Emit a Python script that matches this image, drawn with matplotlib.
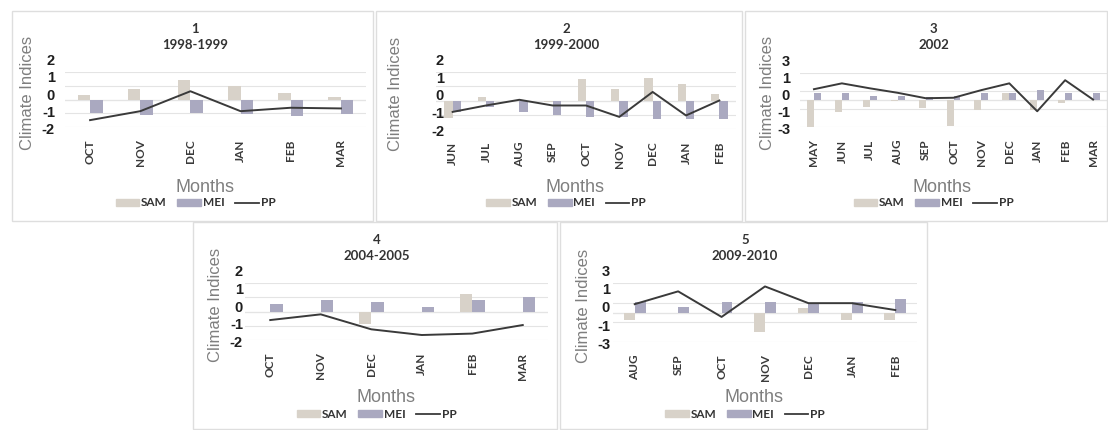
import matplotlib
matplotlib.use('Agg')
import matplotlib.pyplot as plt
from matplotlib.patches import Rectangle, Patch
from matplotlib.lines import Line2D

# panel 1
months1 = ['OCT', 'NOV', 'DEC', 'JAN', 'FEB', 'MAR']
sam1 = [0.35, 0.8, 1.4, 1.0, 0.5, 0.15]
mei1 = [-0.95, -1.1, -0.95, -1.05, -1.2, -1.05]
pp1 = [-1.5, -0.85, 0.6, -0.85, -0.6, -0.65]

# panel 2
months2 = ['JUN', 'JUL', 'AUG', 'SEP', 'OCT', 'NOV', 'DEC', 'JAN', 'FEB']
sam2 = [-1.2, 0.25, -0.05, -0.1, 1.5, 0.8, 1.6, 1.15, 0.45]
mei2 = [-0.8, -0.45, -0.8, -1.05, -1.15, -1.15, -1.3, -1.3, -1.3]
pp2 = [-0.8, -0.35, 0.05, -0.35, -0.35, -1.15, 0.6, -1.05, 0.0]

# panel 3
months3 = ['MAY', 'JUN', 'JUL', 'AUG', 'SEP', 'OCT', 'NOV', 'DEC', 'JAN', 'FEB', 'MAR']
sam3 = [-3.0, -1.3, -0.75, -0.1, -0.9, -2.9, -1.1, 0.75, -1.1, -0.35, -0.05]
mei3 = [0.75, 0.75, 0.5, 0.5, 0.35, 0.5, 0.8, 0.75, 1.1, 0.8, 0.75]
pp3 = [1.2, 1.85, 1.3, 0.8, 0.2, 0.25, 1.1, 1.85, -1.25, 2.2, 0.05]

# panel 4
months4 = ['OCT', 'NOV', 'DEC', 'JAN', 'FEB', 'MAR']
sam4 = [-0.05, -0.05, -0.9, -0.05, 1.25, -0.05]
mei4 = [0.5, 0.8, 0.65, 0.3, 0.8, 1.0]
pp4 = [-0.6, -0.2, -1.25, -1.65, -1.55, -0.95]

# panel 5
months5 = ['AUG', 'SEP', 'OCT', 'NOV', 'DEC', 'JAN', 'FEB']
sam5 = [-0.75, 0.0, 0.0, -2.0, 0.5, -0.75, -0.75]
mei5 = [1.05, 0.6, 1.05, 1.05, 0.95, 1.05, 1.4]
pp5 = [0.85, 2.15, -0.45, 2.65, 0.95, 0.95, 0.25]

titles = ['1\n1998-1999', '2\n1999-2000', '3\n2002', '4\n2004-2005', '5\n2009-2010']
ticks_a = [2, 1, 0, -1, -2]
ticks_b = [3, 1, 0, -1, -3]

W, H = 1108, 430
SAM_C = '#d8d2c9'
MEI_C = '#aaa9c0'
PP_C = '#3a3a3a'
BOLD = ['Lato', 'DejaVu Sans']
PLAIN = ['Liberation Sans', 'DejaVu Sans']


def px(x):
    return x / W


def py(y):
    return 1 - y / H


fig = plt.figure(figsize=(W / 100, H / 100), dpi=100)
fig.patch.set_facecolor('white')

# panel frames (pixels)
frames = [(12, 11, 373, 221), (376, 11, 742, 221), (745, 11, 1107, 221),
          (193, 222, 557, 429), (560, 222, 927, 429)]
for x0, y0, x1, y1 in frames:
    fig.patches.append(Rectangle((px(x0), py(y1)), (x1 - x0) / W, (y1 - y0) / H,
                                 transform=fig.transFigure, fill=False,
                                 edgecolor='#dedede', lw=1))

# plot area (pixels), data, y range, y label x, tick label right edge
panels = [
    ((65, 72, 366, 127), months1, sam1, mei1, pp1, 2, ticks_a, 28, 55),
    ((436, 72, 736, 129), months2, sam2, mei2, pp2, 2, ticks_a, 395, 444),
    ((800, 73, 1107, 127), months3, sam3, mei3, pp3, 3, ticks_b, 768, 790),
    ((245, 283, 548, 340), months4, sam4, mei4, pp4, 2, ticks_a, 215, 243),
    ((613, 283, 917, 342), months5, sam5, mei5, pp5, 3, ticks_b, 583, 610),
]
bw = 0.25

for i, (pb, months, sam, mei, pp, lim, yt, ylx, tkx) in enumerate(panels):
    x0, y0, x1, y1 = pb
    ax = fig.add_axes([px(x0), py(y1), (x1 - x0) / W, (y1 - y0) / H])
    ax.set_facecolor('none')
    x = list(range(len(months)))
    ax.bar([v - bw / 2 for v in x], sam, width=bw, color=SAM_C, zorder=2)
    ax.bar([v + bw / 2 for v in x], mei, width=bw, color=MEI_C, zorder=2)
    ax.plot(x, pp, color=PP_C, lw=1.4, zorder=3)
    ax.set_xlim(-0.5, len(months) - 0.5)
    ax.set_ylim(-lim, lim)
    ax.set_yticks(yt)
    ax.set_yticklabels([])
    ax.set_xticks(x)
    ax.set_xticklabels(months, rotation=90, fontsize=8.5, fontweight='bold',
                       family=BOLD, color='#3a3a3a')
    ax.tick_params(length=0)
    ax.tick_params(axis='x', pad=9)
    ax.grid(axis='y', color='#e4e4e4', lw=0.8, zorder=0)
    for s in ax.spines.values():
        s.set_visible(False)
    ax.axhline(0, color='#dadada', lw=0.8, zorder=1)

    # y tick labels: Excel spread them a little wider than the grid
    top, bot = y0 - 11, y1 + 3
    for k, t in enumerate(yt):
        yy = top + (bot - top) * k / (len(yt) - 1)
        fig.text(px(tkx), py(yy), str(t), ha='right', va='center',
                 fontsize=10.5, fontweight='bold', family=PLAIN, color='#1e1e1e')

    fx0, fy0, fx1, fy1 = frames[i]
    cx = (x0 + x1) / 2
    fig.text(px(cx - 20), py(fy0 + 26), titles[i], ha='center', va='center',
             fontsize=9.5, fontweight='bold', family=BOLD, color='#333333',
             linespacing=1.35)
    fig.text(px(ylx), py((y0 + y1) / 2 - 7), 'Climate Indices', rotation=90,
             ha='center', va='center', fontsize=12, family=PLAIN, color='#7f7f7f')
    fig.text(px(cx - 11), py(fy0 + 176), 'Months', ha='center', va='center',
             fontsize=13, family=PLAIN, color='#7f7f7f')
    handles = [Patch(color=SAM_C, label='SAM'), Patch(color=MEI_C, label='MEI'),
               Line2D([], [], color=PP_C, lw=1.3, label='PP')]
    fig.legend(handles=handles, loc='center', ncol=3, frameon=False,
               bbox_to_anchor=(px(cx - 20), py(fy0 + 192)),
               prop={'family': BOLD, 'weight': 'bold', 'size': 8.5},
               handlelength=2.0, handleheight=0.55, handletextpad=0.15,
               columnspacing=0.9, labelcolor='#333333', borderpad=0)

fig.savefig('out.png', dpi=100, facecolor='white')
